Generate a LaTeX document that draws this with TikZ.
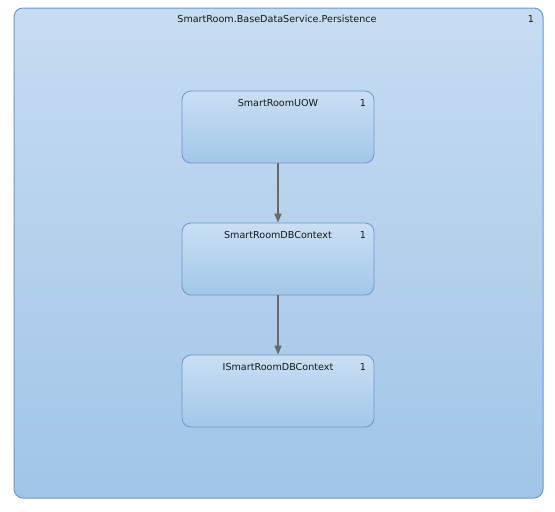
\documentclass[tikz,border=0pt]{standalone}
\usepackage{fontspec}
\setmainfont{DejaVu Sans}
\usetikzlibrary{arrows.meta}
\definecolor{pkgtop}{RGB}{198,220,241}
\definecolor{pkgbot}{RGB}{161,197,231}
\definecolor{pkgline}{RGB}{108,150,212}
\definecolor{clstop}{RGB}{201,223,243}
\definecolor{clsbot}{RGB}{163,199,232}
\definecolor{arrowgray}{RGB}{105,105,105}
\begin{document}
\begin{tikzpicture}[
	x=1pt, y=-1pt,
	package/.style={draw=pkgline, line width=1pt, rounded corners=9pt, top color=pkgtop, bottom color=pkgbot, minimum width=529pt, minimum height=490pt, inner sep=0pt},
	classbox/.style={draw=pkgline, line width=0.8pt, rounded corners=9pt, top color=clstop, bottom color=clsbot, minimum width=192pt, minimum height=72pt, inner sep=0pt},
	label/.style={font=\fontsize{9.6}{11}\selectfont, text=black!90, inner sep=0pt},
	edge/.style={-{Triangle[length=9pt,width=7pt]}, arrowgray, line width=1.6pt}
]
\useasboundingbox (0,0) rectangle (555,512);

% Package
\node[package] (persistence) at (278.5,253) {};
\node[label] (pkgname) at (277,19) {SmartRoom.BaseDataService.Persistence};
\node[label] (pkgnum) at (531,19) {1};

% Classes
\node[classbox] (uow) at (278,127) {};
\node[label] (uowname) at (278,103) {SmartRoomUOW};
\node[label] (uownum) at (363,103) {1};

\node[classbox] (dbcontext) at (278,259) {};
\node[label] (dbcontextname) at (278,235) {SmartRoomDBContext};
\node[label] (dbcontextnum) at (363,235) {1};

\node[classbox] (idbcontext) at (278,391) {};
\node[label] (idbcontextname) at (278,367) {ISmartRoomDBContext};
\node[label] (idbcontextnum) at (363,367) {1};

% Edges
\draw[edge] (uow) -- (dbcontext);
\draw[edge] (dbcontext) -- (idbcontext);

\end{tikzpicture}
\end{document}
